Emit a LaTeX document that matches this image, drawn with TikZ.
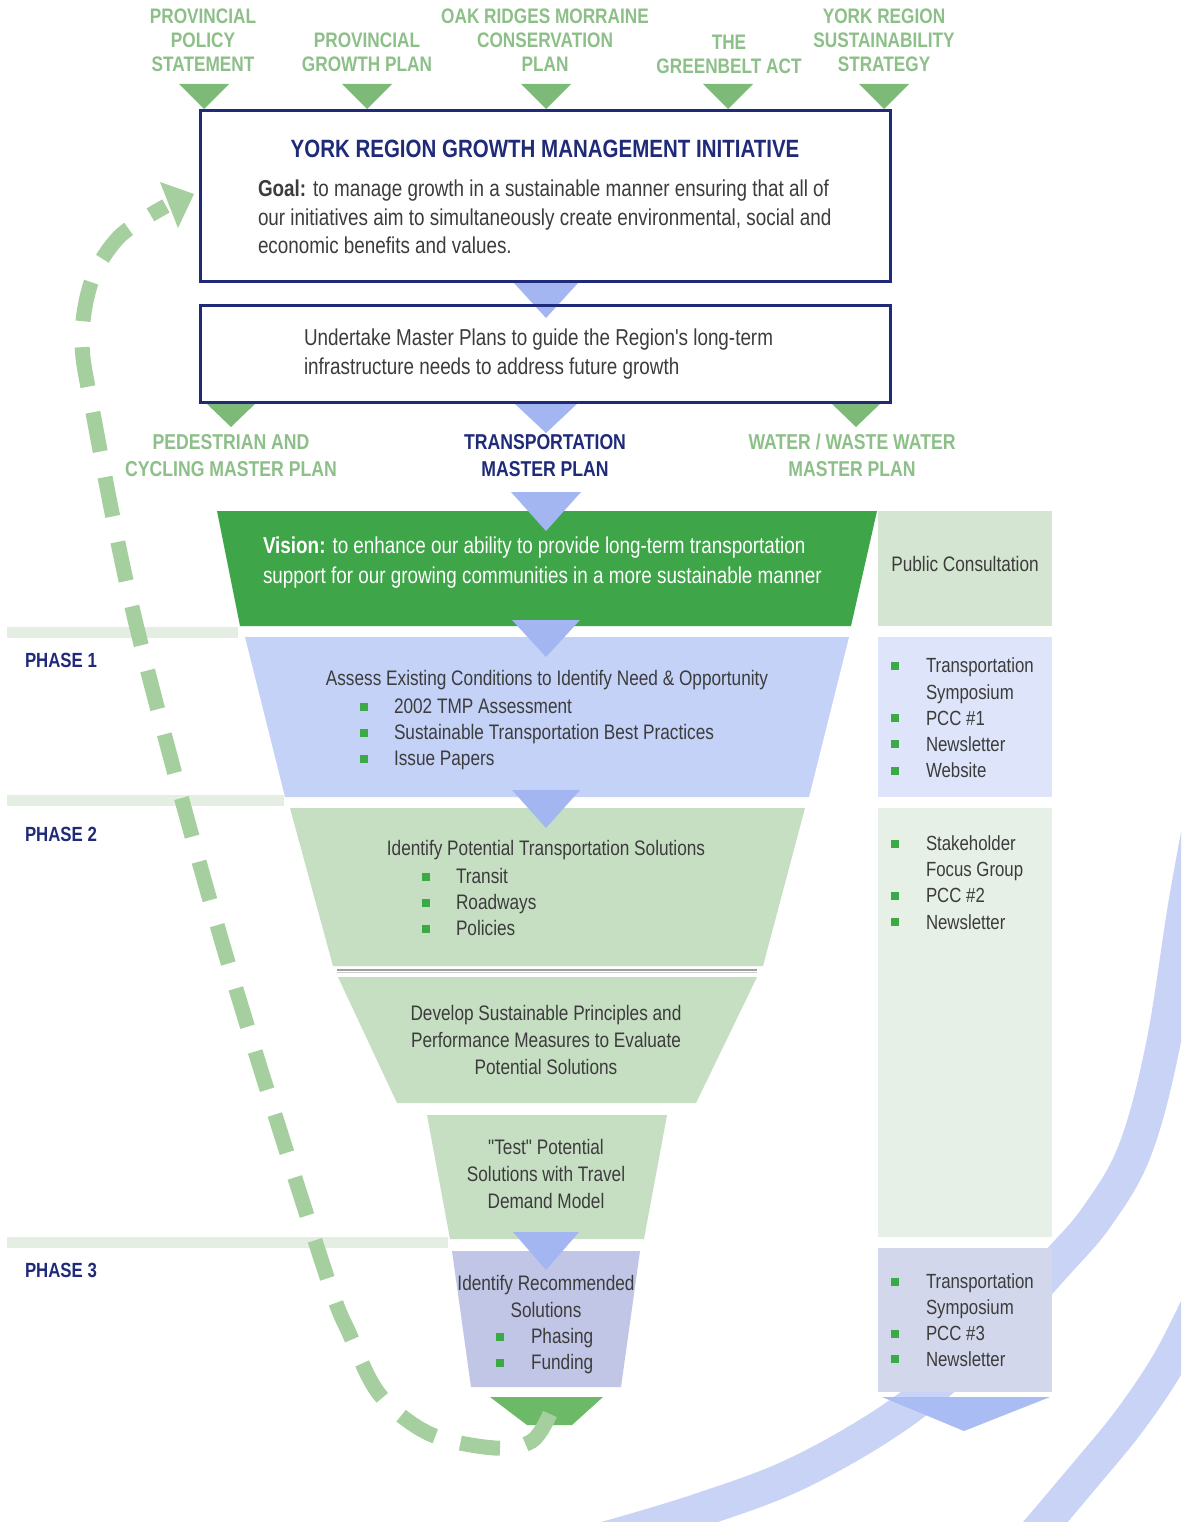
\documentclass[tikz,border=0pt]{standalone}
\usepackage{fontspec}
\setmainfont{Liberation Sans}[FakeStretch=0.82, Ligatures=TeXOff]
\definecolor{cNavy}{HTML}{1F2A78}
\definecolor{cLGreen}{HTML}{8DBF88}
\definecolor{cTriG}{HTML}{7DBA77}
\definecolor{cTriB}{HTML}{A3B6F1}
\definecolor{cVision}{HTML}{3EA548}
\definecolor{cPone}{HTML}{C4D2F7}
\definecolor{cPtwo}{HTML}{C6DFC3}
\definecolor{cRec}{HTML}{C1C6E6}
\definecolor{cBotG}{HTML}{6CB968}
\definecolor{cPC}{HTML}{D4E6D1}
\definecolor{cRone}{HTML}{DEE4F9}
\definecolor{cRtwo}{HTML}{E7F0E6}
\definecolor{cRthree}{HTML}{D3D7EC}
\definecolor{cChev}{HTML}{A9BCF3}
\definecolor{cBar}{HTML}{E4EEE2}
\definecolor{cDash}{HTML}{A6CF9F}
\definecolor{cArc}{HTML}{C8D3F6}
\definecolor{cText}{HTML}{3C3C3C}
\definecolor{cBul}{HTML}{3BAA46}
\newcommand{\downtri}[5]{\fill[#1] ({#2-#5},#3) -- ({#2+#5},#3) -- (#2,#4) -- cycle;}
\begin{document}
\begin{tikzpicture}[x=1pt,y=-1pt,
  every node/.style={inner sep=0pt, outer sep=0pt},
  tlabel/.style={font=\fontsize{21}{24}\selectfont\bfseries, text=cLGreen, align=center},
  mlabel/.style={font=\fontsize{21.5}{27}\selectfont\bfseries, align=center},
  boxtext/.style={font=\fontsize{23}{28.5}\selectfont, text=cText, align=left, anchor=west},
  ftext/.style={font=\fontsize{21}{27}\selectfont, text=cText, align=center},
  item/.style={font=\fontsize{21}{26}\selectfont, text=cText, anchor=base west},
  ritem/.style={font=\fontsize{20.5}{26}\selectfont, text=cText, anchor=base west},
  phase/.style={font=\fontsize{20.5}{24}\selectfont\bfseries, text=cNavy, anchor=west},
  bul/.style={fill=cBul, minimum size=8.5pt, inner sep=0pt},
  boxline/.style={draw=cNavy, line width=3pt}
]
\useasboundingbox (0,0) rectangle (1181,1522);
\fill[white] (0,0) rectangle (1181,1522);

% background arcs
\begin{scope}
\clip (0,0) rectangle (1181,1522);
\draw[cArc, line width=34pt] plot[smooth, tension=0.6] coordinates {(1210,770) (1186,900) (1163,1045) (1135,1150) (1098,1215) (1058,1262) (990,1335) (905,1410) (800,1472) (700,1510) (600,1540)};
\draw[cArc, line width=34pt] plot[smooth, tension=0.6] coordinates {(1205,1290) (1170,1360) (1130,1420) (1085,1475) (1030,1540)};
\end{scope}

% phase bars
\fill[cBar] (7,627) rectangle (238,638);
\fill[cBar] (7,795) rectangle (284,806);
\fill[cBar] (7,1237) rectangle (448,1248);

% right column
\fill[cPC] (878,511) rectangle (1052,626);
\fill[cRone] (878,637) rectangle (1052,797);
\fill[cRtwo] (878,808) rectangle (1052,1237);
\fill[cRthree] (878,1248) rectangle (1052,1392);
\fill[cChev] (882,1397) -- (1050,1397) -- (964,1431) -- cycle;

% funnel
\fill[cVision] (217,511) -- (877,511) -- (851,626) -- (240,626) -- cycle;
\fill[cPone] (245,637) -- (849,637) -- (809,797) -- (285,797) -- cycle;
\fill[cPtwo] (290,808) -- (805,808) -- (763,966) -- (333,966) -- cycle;
\draw[gray!75, line width=2pt] (337,969.5) -- (757,969.5);
\draw[gray!40, line width=1pt] (337,972.5) -- (757,972.5);
\fill[cPtwo] (338,977) -- (757,977) -- (696,1103) -- (397,1103) -- cycle;
\fill[cPtwo] (427,1115) -- (667,1115) -- (644,1239) -- (450,1239) -- cycle;
\fill[cRec] (452,1251) -- (640,1251) -- (621,1387) -- (471,1387) -- cycle;
\fill[cBotG] (490,1397) -- (603,1397) -- (572,1425) -- (527,1425) -- cycle;

% triangles
\downtri{cTriG}{204}{84}{109}{25}
\downtri{cTriG}{367}{84}{109}{25}
\downtri{cTriG}{546}{84}{109}{25}
\downtri{cTriG}{728}{84}{109}{25}
\downtri{cTriG}{884}{84}{109}{25}
\downtri{cTriB}{546}{283}{318}{32}
\downtri{cTriG}{231}{403}{427}{25}
\downtri{cTriB}{546}{403}{433}{32}
\downtri{cTriG}{856}{403}{427}{25}
\downtri{cTriB}{546}{492}{531}{35}
\downtri{cTriB}{546}{620}{657}{34}
\downtri{cTriB}{546}{790}{828}{34}
\downtri{cTriB}{546}{1232}{1270}{33}

% boxes
\node[boxline, minimum width=690pt, minimum height=170pt] (gmi) at (545,196) {};
\node[boxline, minimum width=690pt, minimum height=97pt] (mp) at (545,353.5) {};

% dashed feedback arrow
\draw[cDash, line width=15pt, dash pattern=on 40pt off 26pt] plot[smooth, tension=0.55] coordinates {(550,1414) (532,1441) (495,1448) (430,1434) (380,1395) (350,1335) (322,1262) (222,942) (137,628) (93,413) (82,340) (92,280) (120,236) (166,206)};
\fill[cDash] (160,182) -- (194,194) -- (178,228) -- cycle;

% top labels
\node[tlabel] (l1) at (203,40) {PROVINCIAL\\POLICY\\STATEMENT};
\node[tlabel] (l2) at (367,52) {PROVINCIAL\\GROWTH PLAN};
\node[tlabel] (l3) at (545,40) {OAK RIDGES MORRAINE\\CONSERVATION\\PLAN};
\node[tlabel] (l4) at (729,54.5) {THE\\GREENBELT ACT};
\node[tlabel] (l5) at (884,40) {YORK REGION\\SUSTAINABILITY\\STRATEGY};

% box texts
\node[font=\fontsize{25}{28}\selectfont\bfseries, text=cNavy] (title) at (545,149) {YORK REGION GROWTH MANAGEMENT INITIATIVE};
\node[boxtext] (goal) at (258,217) {{\bfseries Goal:} to manage growth in a sustainable manner ensuring that all of\\our initiatives aim to simultaneously create environmental, social and\\economic benefits and values.};
\node[boxtext] (mptext) at (304,354) {Undertake Master Plans to guide the Region's long-term\\infrastructure needs to address future growth};

% master plan labels
\node[mlabel, text=cLGreen] (ped) at (231,455.5) {PEDESTRIAN AND\\CYCLING MASTER PLAN};
\node[mlabel, text=cNavy] (tmp) at (545,455.5) {TRANSPORTATION\\MASTER PLAN};
\node[mlabel, text=cLGreen] (water) at (852,455.5) {WATER / WASTE WATER\\MASTER PLAN};

% vision
\node[font=\fontsize{23}{30}\selectfont, text=white, align=left, anchor=west] (vision) at (263,563) {{\bfseries Vision:} to enhance our ability to provide long-term transportation\\support for our growing communities in a more sustainable manner};
\node[font=\fontsize{21}{26}\selectfont, text=cText] (pc) at (965,564) {Public Consultation};

% phase labels
\node[phase] (ph1) at (25,660) {PHASE 1};
\node[phase] (ph2) at (25,834) {PHASE 2};
\node[phase] (ph3) at (25,1270) {PHASE 3};

% phase 1 funnel
\node[ftext] (assess) at (547,680) {Assess Existing Conditions to Identify Need \& Opportunity};
\node[bul] (a1) at (364,707) {};
\node[item] (ai1) at (394,713.5) {2002 TMP Assessment};
\node[bul] (a2) at (364,733) {};
\node[item] (ai2) at (394,739.5) {Sustainable Transportation Best Practices};
\node[bul] (a3) at (364,759) {};
\node[item] (ai3) at (394,765.5) {Issue Papers};

% phase 2 funnel
\node[ftext] (ident) at (546,850) {Identify Potential Transportation Solutions};
\node[bul] (s1) at (426,877) {};
\node[item] (si1) at (456,883.5) {Transit};
\node[bul] (s2) at (426,903) {};
\node[item] (si2) at (456,909.5) {Roadways};
\node[bul] (s3) at (426,929) {};
\node[item] (si3) at (456,935.5) {Policies};

\node[ftext] (develop) at (546,1040) {Develop Sustainable Principles and\\Performance Measures to Evaluate\\Potential Solutions};
\node[ftext] (test) at (546,1174) {"Test" Potential\\Solutions with Travel\\Demand Model};

% phase 3 funnel
\node[ftext] (recom) at (546,1296) {Identify Recommended\\Solutions};
\node[bul] (r1) at (500,1337) {};
\node[item] (ri1) at (531,1343.5) {Phasing};
\node[bul] (r2) at (500,1363) {};
\node[item] (ri2) at (531,1369.5) {Funding};

% right column items
\node[bul] (c1) at (895,666) {};
\node[ritem] (ci1) at (926,672.5) {Transportation};
\node[ritem] (ci1b) at (926,699) {Symposium};
\node[bul] (c2) at (895,718) {};
\node[ritem] (ci2) at (926,725) {PCC \#1};
\node[bul] (c3) at (895,744) {};
\node[ritem] (ci3) at (926,751) {Newsletter};
\node[bul] (c4) at (895,771) {};
\node[ritem] (ci4) at (926,777.5) {Website};

\node[bul] (d1) at (895,844) {};
\node[ritem] (di1) at (926,850.5) {Stakeholder};
\node[ritem] (di1b) at (926,876) {Focus Group};
\node[bul] (d2) at (895,896) {};
\node[ritem] (di2) at (926,902.5) {PCC \#2};
\node[bul] (d3) at (895,922) {};
\node[ritem] (di3) at (926,929) {Newsletter};

\node[bul] (e1) at (895,1282) {};
\node[ritem] (ei1) at (926,1288.5) {Transportation};
\node[ritem] (ei1b) at (926,1314) {Symposium};
\node[bul] (e2) at (895,1334) {};
\node[ritem] (ei2) at (926,1340.5) {PCC \#3};
\node[bul] (e3) at (895,1359) {};
\node[ritem] (ei3) at (926,1366) {Newsletter};
\end{tikzpicture}
\end{document}
